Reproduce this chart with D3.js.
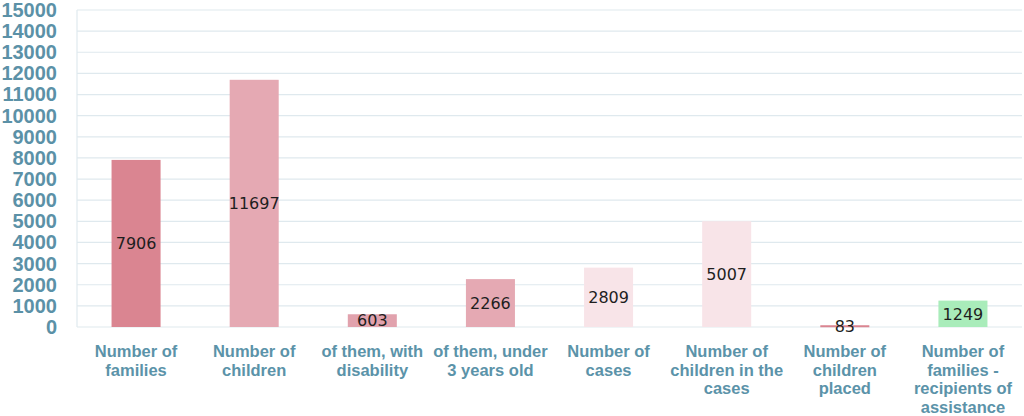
<!DOCTYPE html>
<html><head><meta charset="utf-8">
<script src="https://cdn.jsdelivr.net/npm/d3@7"></script>
<style>body{margin:0;background:#fff}svg{display:block}</style>
</head><body>
<svg id="chart" width="1024" height="416"></svg>
<script>
const categories = [
  "Number of\nfamilies",
  "Number of\nchildren",
  "of them, with\ndisability",
  "of them, under\n3 years old",
  "Number of\ncases",
  "Number of\nchildren in the\ncases",
  "Number of\nchildren\nplaced",
  "Number of\nfamilies -\nrecipients of\nassistance"
];
const values = [7906, 11697, 603, 2266, 2809, 5007, 83, 1249];
const barColors = ["#da8591", "#e5a9b3", "#e1a2ad", "#e5a9b3", "#f8e4e8", "#f8e4e8", "#da8591", "#a9ecba"];
const yTicks = [0,1000,2000,3000,4000,5000,6000,7000,8000,9000,10000,11000,12000,13000,14000,15000];

(function () {
const svg = d3.select("#chart");
const mLeft = 77, mRight = 1022, mTop = 10, mBottom = 327;
const x = d3.scaleBand().domain(categories).range([mLeft, mRight]).paddingInner(0.585).paddingOuter(0.2925);
const y = d3.scaleLinear().domain([0, 15000]).range([mBottom, mTop]);

// gridlines
svg.append("g").selectAll("line").data(yTicks).join("line")
  .attr("x1", mLeft).attr("x2", mRight)
  .attr("y1", d => y(d)).attr("y2", d => y(d))
  .attr("stroke", "#dfe9ee").attr("stroke-width", 1.2);
svg.append("line").attr("x1", mLeft).attr("x2", mLeft).attr("y1", mTop).attr("y2", mBottom)
  .attr("stroke", "#dfe9ee").attr("stroke-width", 1.2);

// y axis labels
const yAxis = d3.axisLeft(y).tickValues(yTicks).tickSize(0).tickPadding(0).tickFormat(d3.format("d"));
const ya = svg.append("g").attr("transform", `translate(${mLeft - 20},0)`).call(yAxis);
ya.select(".domain").remove();
ya.selectAll("text").attr("font-family", "Liberation Sans, Arial, sans-serif")
  .attr("font-weight", "bold").attr("font-size", 20).attr("fill", "#5b91a7");

// bars
svg.append("g").selectAll("rect").data(values).join("rect")
  .attr("x", (d, i) => x(categories[i]))
  .attr("width", x.bandwidth())
  .attr("y", d => y(d))
  .attr("height", d => Math.max(mBottom - y(d), 2))
  .attr("fill", (d, i) => barColors[i]);

// value labels
svg.append("g").selectAll("text").data(values).join("text")
  .attr("x", (d, i) => x(categories[i]) + x.bandwidth() / 2)
  .attr("y", d => (y(d) + mBottom) / 2)
  .attr("dy", "0.36em")
  .attr("text-anchor", "middle")
  .attr("font-family", "DejaVu Sans, sans-serif")
  .attr("font-size", 16).attr("fill", "#1e1e1e")
  .text(d => d);

// category labels
const xa = svg.append("g");
categories.forEach(c => {
  const cx = x(c) + x.bandwidth() / 2;
  const t = xa.append("text")
    .attr("x", cx).attr("y", 357)
    .attr("text-anchor", "middle")
    .attr("font-family", "Liberation Sans, Arial, sans-serif")
    .attr("font-weight", "bold").attr("font-size", 16.5).attr("fill", "#5b93a9");
  c.split("\n").forEach((line, i) => {
    t.append("tspan").attr("x", cx).attr("dy", i === 0 ? 0 : 18.7).text(line);
  });
});
})();
</script>
</body></html>
